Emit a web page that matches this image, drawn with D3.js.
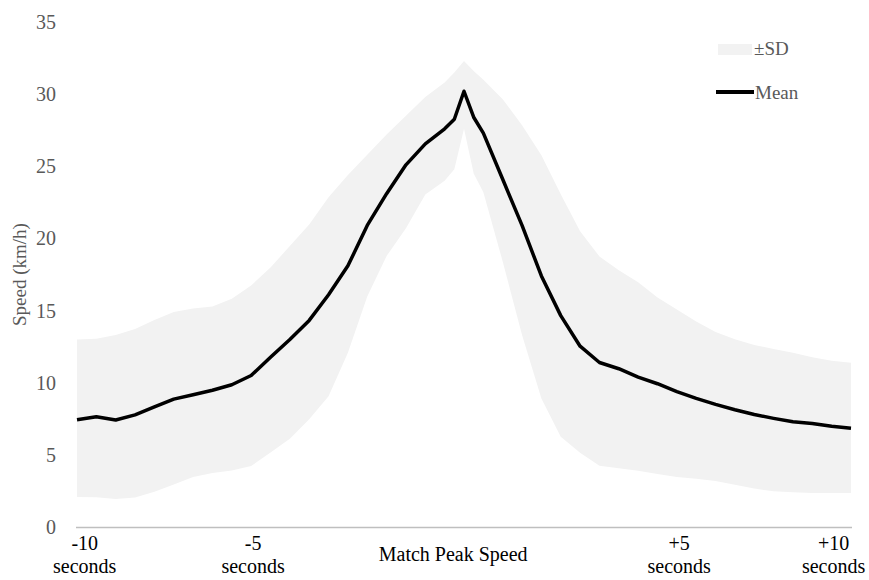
<!DOCTYPE html>
<html>
<head>
<meta charset="utf-8">
<script src="https://cdn.jsdelivr.net/npm/d3@7"></script>
<style>
  body { margin: 0; background: #fff; }
  text { font-family: "Liberation Serif", "Times New Roman", serif; }
</style>
</head>
<body>
<div id="chart"></div>
<script>
// time relative to the match peak speed (s)
const seconds = [-10, -9.5, -9, -8.5, -8, -7.5, -7, -6.5, -6, -5.5, -5, -4.5, -4, -3.5, -3, -2.5, -2, -1.5, -1, -0.5, -0.25,
    0, 0.25, 0.5, 1, 1.5, 2, 2.5, 3, 3.5, 4, 4.5, 5, 5.5, 6, 6.5, 7, 7.5, 8, 8.5, 9, 9.5, 10];

// mean speed (km/h)
const meanSpeed = [7.43, 7.64, 7.42, 7.77, 8.32, 8.86, 9.17, 9.48, 9.86, 10.5, 11.77, 12.99, 14.32, 16.1, 18.1, 20.9, 23.1, 25.1, 26.55, 27.6, 28.26,
    30.2, 28.4, 27.3, 24.1, 20.9, 17.4, 14.65, 12.53, 11.4, 10.97, 10.39, 9.93, 9.38, 8.91, 8.5, 8.13, 7.8, 7.53, 7.29, 7.18, 6.98, 6.84];

// mean + SD
const upperSD = [12.99, 13.04, 13.3, 13.72, 14.34, 14.9, 15.15, 15.28, 15.82, 16.74, 17.99, 19.47, 20.97, 22.85, 24.4, 25.8, 27.2, 28.5, 29.8, 30.8, 31.5,
    32.3, 31.6, 31.0, 29.65, 27.85, 25.76, 23.06, 20.5, 18.75, 17.8, 16.96, 15.9, 15.07, 14.24, 13.52, 13.02, 12.62, 12.33, 12.08, 11.77, 11.53, 11.39];

// mean - SD
const lowerSD = [2.08, 2.06, 1.94, 2.04, 2.45, 2.94, 3.47, 3.75, 3.92, 4.22, 5.16, 6.11, 7.46, 9.07, 12.08, 15.97, 18.79, 20.7, 23.05, 24.0, 24.8,
    27.6, 24.5, 23.2, 18.4, 13.3, 8.9, 6.25, 5.14, 4.24, 4.08, 3.89, 3.68, 3.47, 3.35, 3.18, 2.92, 2.66, 2.47, 2.4, 2.36, 2.36, 2.36];

const yTicks = [0, 5, 10, 15, 20, 25, 30, 35];
const xLabelTimes = [-9.8, -5.45, -0.28, 5.56, 9.55];
const xLabelLines = [["-10", "seconds"], ["-5", "seconds"], ["Match Peak Speed"], ["+5", "seconds"], ["+10", "seconds"]];

const width = 869;
const height = 580;

const data = seconds.map((t, i) => ({ t: t, mean: meanSpeed[i], hi: upperSD[i], lo: lowerSD[i] }));

const svg = d3.select("#chart")
    .append("svg")
    .attr("width", width)
    .attr("height", height);

const x = d3.scaleLinear().domain([-10, 10]).range([77, 851]);
const y = d3.scaleLinear().domain([0, 35]).range([527, 22]);

// SD band
svg.append("path")
    .datum(data)
    .attr("fill", "#f2f2f2")
    .attr("d", d3.area()
        .x(d => x(d.t))
        .y0(d => y(d.lo))
        .y1(d => y(d.hi)));

// baseline axis
svg.append("line")
    .attr("x1", 76)
    .attr("x2", 852)
    .attr("y1", y(0) + 0.5)
    .attr("y2", y(0) + 0.5)
    .attr("stroke", "#bfbfbf")
    .attr("stroke-width", 1.5);

// mean line
svg.append("path")
    .datum(data)
    .attr("fill", "none")
    .attr("stroke", "#000")
    .attr("stroke-width", 3.5)
    .attr("stroke-linejoin", "round")
    .attr("d", d3.line()
        .x(d => x(d.t))
        .y(d => y(d.mean)));

// y tick labels
svg.selectAll(".ytick")
    .data(yTicks)
    .enter().append("text")
    .attr("class", "ytick")
    .attr("x", 56)
    .attr("y", d => y(d))
    .attr("dy", "0.35em")
    .attr("text-anchor", "end")
    .style("font-size", "20px")
    .style("fill", "#595959")
    .text(d => d);

// y axis title
svg.append("text")
    .attr("transform", `translate(26,${(y(0) + y(35)) / 2}) rotate(-90)`)
    .attr("text-anchor", "middle")
    .style("font-size", "19px")
    .style("fill", "#595959")
    .text("Speed (km/h)");

// x labels
const xl = svg.selectAll(".xlabel")
    .data(xLabelTimes)
    .enter().append("text")
    .attr("class", "xlabel")
    .attr("text-anchor", "middle")
    .style("font-size", "20px")
    .style("fill", "#000");

xl.each(function(d, i) {
    const lines = xLabelLines[i];
    const t = d3.select(this);
    const baseY = lines.length === 1 ? 561 : 550;
    lines.forEach((s, j) => {
        t.append("tspan")
            .attr("x", x(d))
            .attr("y", baseY + j * 23)
            .text(s);
    });
});

// legend
svg.append("rect")
    .attr("x", 718)
    .attr("y", 44)
    .attr("width", 34)
    .attr("height", 11)
    .attr("fill", "#f2f2f2");

svg.append("text")
    .attr("x", 754)
    .attr("y", 55)
    .style("font-size", "19px")
    .style("fill", "#595959")
    .text("±SD");

svg.append("line")
    .attr("x1", 716)
    .attr("x2", 754)
    .attr("y1", 92)
    .attr("y2", 92)
    .attr("stroke", "#000")
    .attr("stroke-width", 4);

svg.append("text")
    .attr("x", 755)
    .attr("y", 99)
    .style("font-size", "19px")
    .style("fill", "#595959")
    .text("Mean");
</script>
</body>
</html>
